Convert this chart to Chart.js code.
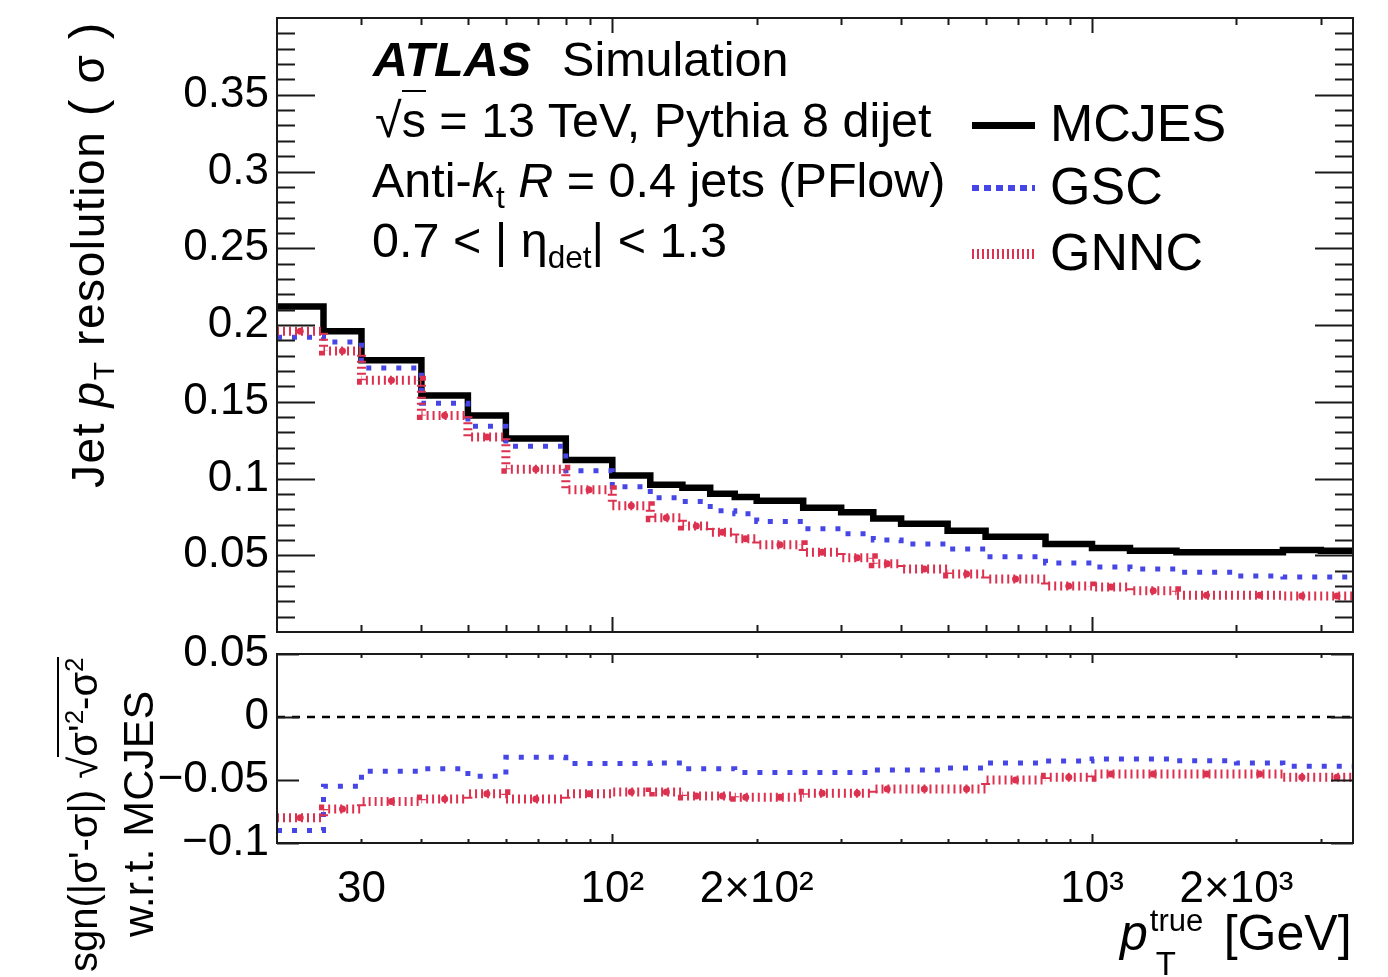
<!DOCTYPE html>
<html>
<head>
<meta charset="utf-8">
<script src="https://cdn.jsdelivr.net/npm/chart.js@4.4.1/dist/chart.umd.min.js"></script>
<style>
  body { margin: 0; background: #fff; width: 1388px; height: 977px; position: relative; overflow: hidden;
         font-family: "Liberation Sans", Arial, sans-serif; color: #000; }
  canvas { position: absolute; left: 0; top: 0; }
  .t { position: absolute; white-space: nowrap; line-height: 1; }
  .rot { transform-origin: 0 0; transform: rotate(-90deg); }
  .s48 { font-size: 48.5px; }
  .s52 { font-size: 52px; }
  sub, sup { font-size: 65%; line-height: 0; }
  .sample { position: absolute; left: 972px; width: 63px; }
</style>
</head>
<body>
<canvas id="topPanel" width="1388" height="977"></canvas>
<canvas id="ratioPanel" width="1388" height="977"></canvas>

<!-- labels -->
<div class="t s48" style="left:373px;top:35px;"><b><i>ATLAS</i></b><span style="margin-left:31px;">Simulation</span></div>
<div class="t s48" style="left:375px;top:96px;">√<span style="border-top:2px solid #000;padding-top:1px;">s</span> = 13 TeV, Pythia 8 dijet</div>
<div class="t s48" style="left:372px;top:156px;">Anti-<i>k</i><sub>t</sub> <i>R</i> = 0.4 jets (PFlow)</div>
<div class="t s48" style="left:372px;top:216px;">0.7 &lt; | η<sub>det</sub>| &lt; 1.3</div>

<div class="sample" style="top:122px;height:7px;background:#000;"></div>
<div class="sample" style="top:185px;height:6px;background:repeating-linear-gradient(to right,#4646e6 0 7px,transparent 7px 12px);"></div>
<div class="sample" style="top:249px;height:10px;background:repeating-linear-gradient(to right,#dc3250 0 2px,transparent 2px 5px);"></div>
<div class="t s52" style="left:1050px;top:97px;">MCJES</div>
<div class="t s52" style="left:1050px;top:160px;">GSC</div>
<div class="t s52" style="left:1050px;top:226px;">GNNC</div>

<div class="t rot" style="left:62px;top:488px;font-size:46px;letter-spacing:1.6px;">Jet <i>p</i><sub>T</sub> resolution <span style="font-size:50px;">(</span>&nbsp;σ&nbsp;<span style="font-size:50px;">)</span></div>
<div class="t rot" style="left:63px;top:972px;font-size:40px;">sgn(|σ'-σ|) √<span style="border-top:2px solid #000;padding-top:2px;">σ'<sup>2</sup>-σ<sup>2</sup></span></div>
<div class="t rot" style="left:117px;top:937px;font-size:43px;">w.r.t. MCJES</div>

<div class="t" style="left:1120px;top:908px;font-size:50px;"><i>p</i><span style="display:inline-block;position:relative;width:62px;height:1px;"><span style="position:absolute;left:2px;top:-44px;font-size:31px;">true</span><span style="position:absolute;left:8px;top:-2px;font-size:33px;">T</span></span> [GeV]</div>

<script>
// bin edges in GeV
const binEdges = [20, 25, 30, 40, 50, 60, 80, 100, 120, 140, 160, 180, 200, 250, 300, 350, 400, 500, 600, 800, 1000, 1200, 1500, 2000, 2500, 3000, 3500];

// resolution per bin
const mcjes = [0.212, 0.196, 0.177, 0.154, 0.141, 0.126, 0.112, 0.102, 0.096, 0.094, 0.090, 0.088, 0.0855, 0.081, 0.078, 0.074, 0.0705, 0.066, 0.062, 0.0574, 0.0548, 0.053, 0.052, 0.052, 0.0535, 0.053];
const gsc = [0.192, 0.189, 0.172, 0.149, 0.134, 0.121, 0.105, 0.0946, 0.0875, 0.085, 0.079, 0.077, 0.072, 0.0672, 0.064, 0.060, 0.0574, 0.054, 0.049, 0.045, 0.0424, 0.041, 0.039, 0.0365, 0.0358, 0.0358];
const gnnc = [0.196, 0.183, 0.164, 0.141, 0.127, 0.106, 0.0927, 0.0822, 0.0744, 0.069, 0.065, 0.0607, 0.0568, 0.052, 0.0483, 0.0444, 0.041, 0.0378, 0.0346, 0.030, 0.0293, 0.0268, 0.024, 0.024, 0.0235, 0.0235];

// lower panel: sgn * sqrt(s'^2 - s^2) w.r.t. MCJES
const gscDiff = [-0.090, -0.055, -0.043, -0.041, -0.047, -0.032, -0.037, -0.037, -0.0365, -0.041, -0.041, -0.044, -0.044, -0.044, -0.044, -0.042, -0.042, -0.0405, -0.0365, -0.035, -0.0333, -0.0333, -0.0347, -0.0365, -0.039, -0.039];
const gnncDiff = [-0.080, -0.073, -0.067, -0.065, -0.061, -0.065, -0.061, -0.0596, -0.0595, -0.0627, -0.0627, -0.0637, -0.0637, -0.0606, -0.0606, -0.0571, -0.0571, -0.0571, -0.050, -0.0478, -0.0452, -0.0452, -0.0452, -0.0452, -0.0478, -0.0478];

// ticks
const xTickVals = [30, 100, 200, 1000, 2000];
const xTickLabels = ["30", "10²", "2×10²", "10³", "2×10³"];
const xMajor = [100, 1000];
const xMinor = [30, 40, 50, 60, 70, 80, 90, 200, 300, 400, 500, 600, 700, 800, 900, 2000, 3000];
const yTopTicks = [0.05, 0.1, 0.15, 0.2, 0.25, 0.3, 0.35];
const yTopMinor = [0.01, 0.02, 0.03, 0.04, 0.06, 0.07, 0.08, 0.09, 0.11, 0.12, 0.13, 0.14, 0.16, 0.17, 0.18, 0.19, 0.21, 0.22, 0.23, 0.24, 0.26, 0.27, 0.28, 0.29, 0.31, 0.32, 0.33, 0.34, 0.36, 0.37, 0.38, 0.39];
const yRatioTicks = [-0.1, -0.05, 0, 0.05];

const BLUE = "#4646e6";
const RED = "#dc3250";
const FONT = { family: "'Liberation Sans', Arial, sans-serif", size: 44 };

// histogram as stepped points (left edges + closing right edge)
function steps(vals) {
  const pts = vals.map((v, i) => ({ x: binEdges[i], y: v }));
  pts.push({ x: binEdges[binEdges.length - 1], y: vals[vals.length - 1] });
  return pts;
}
function centers(vals) {
  return vals.map((v, i) => ({ x: Math.sqrt(binEdges[i] * binEdges[i + 1]), y: v }));
}
function fmt(v) {
  if (Math.abs(v) < 1e-9) return "0";
  return (v < 0 ? "\u2212" : "") + String(+Math.abs(v).toFixed(2));
}
function noPad(s) {
  s.paddingTop = 0; s.paddingBottom = 0; s.paddingLeft = 0; s.paddingRight = 0;
}

// ROOT style frame with inward ticks on all sides
const rootFrame = {
  id: "rootFrame",
  afterDatasetsDraw(chart, args, o) {
    const { ctx, chartArea: a, scales: { x, y } } = chart;
    ctx.save();
    ctx.strokeStyle = "#1a1a1a";
    ctx.lineWidth = 2;
    ctx.beginPath();
    const yt = (list, len) => list.forEach(v => {
      const p = Math.round(y.getPixelForValue(v)) + 0.5;
      ctx.moveTo(a.left, p); ctx.lineTo(a.left + len, p);
      ctx.moveTo(a.right, p); ctx.lineTo(a.right - len, p);
    });
    const xt = (list, len) => list.forEach(v => {
      const p = Math.round(x.getPixelForValue(v)) + 0.5;
      ctx.moveTo(p, a.bottom); ctx.lineTo(p, a.bottom - len);
      ctx.moveTo(p, a.top); ctx.lineTo(p, a.top + len);
    });
    yt(o.yMajor, o.yMajorLen);
    yt(o.yMinor, o.yMinorLen);
    xt(xMajor, o.xMajorLen);
    xt(xMinor, o.xMinorLen);
    ctx.stroke();
    ctx.strokeRect(a.left, a.top, a.right - a.left, a.bottom - a.top);
    ctx.restore();
  }
};

const lineStyles = {
  mcjes: { borderColor: "#000", borderWidth: 6.5 },
  gsc: { borderColor: BLUE, borderWidth: 5, borderDash: [5, 10] },
  gnnc: { borderColor: RED, borderWidth: 9, borderDash: [2, 4] }
};
function histSet(label, vals, style) {
  return Object.assign({ label, data: steps(vals), stepped: "before", pointRadius: 0, fill: false,
    borderCapStyle: "butt", borderJoinStyle: "miter" }, style);
}
function markerSet(vals, color) {
  return { label: "", data: centers(vals), showLine: false, pointRadius: 3.5,
    pointBackgroundColor: color, pointBorderWidth: 0 };
}

// ---------- TOP PANEL ----------
new Chart(document.getElementById("topPanel"), {
  type: "line",
  data: {
    datasets: [
      markerSet(gnnc, RED),
      histSet("GNNC", gnnc, lineStyles.gnnc),
      histSet("GSC", gsc, lineStyles.gsc),
      histSet("MCJES", mcjes, lineStyles.mcjes)
    ]
  },
  options: {
    responsive: false,
    animation: false,
    layout: { padding: { left: 77, right: 35, top: 18, bottom: 345 } },
    plugins: {
      legend: { display: false },
      tooltip: { enabled: false },
      rootFrame: { yMajor: yTopTicks, yMinor: yTopMinor, yMajorLen: 38, yMinorLen: 18, xMajorLen: 15, xMinorLen: 7 }
    },
    scales: {
      x: { type: "logarithmic", min: 20, max: 3500, display: false },
      y: {
        type: "linear", min: 0, max: 0.4,
        grid: { display: false, drawTicks: false },
        border: { display: false },
        ticks: { font: FONT, color: "#000", padding: 8, callback: v => fmt(v) },
        afterBuildTicks: s => { s.ticks = yTopTicks.map(v => ({ value: v })); },
        afterFit: s => { s.width = 200; noPad(s); }
      }
    }
  },
  plugins: [rootFrame]
});

// ---------- RATIO PANEL ----------
new Chart(document.getElementById("ratioPanel"), {
  type: "line",
  data: {
    datasets: [
      { label: "zero", data: [{ x: 20, y: 0 }, { x: 3500, y: 0 }], borderColor: "#000", borderWidth: 2.5,
        borderDash: [8, 7], pointRadius: 0 },
      markerSet(gnncDiff, RED),
      histSet("GNNC", gnncDiff, lineStyles.gnnc),
      histSet("GSC", gscDiff, lineStyles.gsc)
    ]
  },
  options: {
    responsive: false,
    animation: false,
    layout: { padding: { left: 77, right: 35, top: 654, bottom: 74 } },
    plugins: {
      legend: { display: false },
      tooltip: { enabled: false },
      rootFrame: { yMajor: yRatioTicks, yMinor: [], yMajorLen: 22, yMinorLen: 0, xMajorLen: 9, xMinorLen: 4 }
    },
    scales: {
      x: {
        type: "logarithmic", min: 20, max: 3500,
        grid: { display: false, drawTicks: false },
        border: { display: false },
        ticks: { font: FONT, color: "#000", padding: 20, autoSkip: false, maxRotation: 0,
          callback: v => { const i = xTickVals.indexOf(v); return i < 0 ? "" : xTickLabels[i]; } },
        afterBuildTicks: s => { s.ticks = xTickVals.map(v => ({ value: v })); },
        afterFit: s => { s.height = 60; noPad(s); }
      },
      y: {
        type: "linear", min: -0.1, max: 0.05,
        grid: { display: false, drawTicks: false },
        border: { display: false },
        ticks: { font: FONT, color: "#000", padding: 8, callback: v => fmt(v) },
        afterBuildTicks: s => { s.ticks = yRatioTicks.map(v => ({ value: v })); },
        afterFit: s => { s.width = 200; noPad(s); }
      }
    }
  },
  plugins: [rootFrame]
});
</script>
</body>
</html>
